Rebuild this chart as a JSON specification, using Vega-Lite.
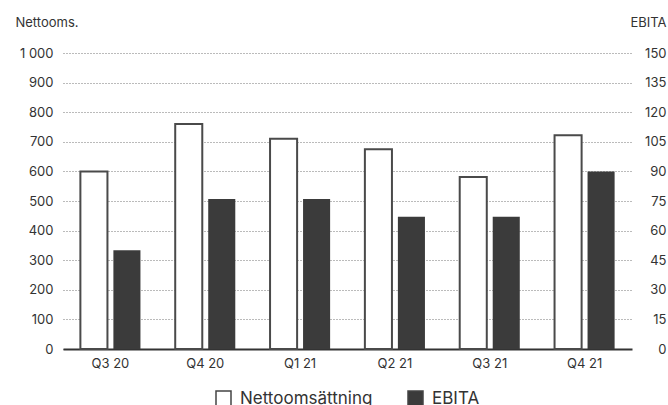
{
  "$schema": "https://vega.github.io/schema/vega-lite/v6.json",
  "width": 569,
  "height": 296,
  "autosize": {"type": "none"},
  "padding": {"left": 63, "top": 53, "right": 36, "bottom": 56},
  "config": {
    "locale": {"number": {"decimal": ",", "thousands": " ", "grouping": [3], "currency": ["", " kr"]}},
    "font": "Inter",
    "view": {"stroke": null},
    "axis": {
      "labelFont": "Inter", "labelFontSize": 13, "labelColor": "#333333",
      "ticks": false, "domain": false, "grid": false,
      "titleFont": "Inter", "titleFontSize": 13, "titleFontWeight": "normal", "titleColor": "#333333"
    },
    "legend": {
      "labelFont": "Inter", "labelFontSize": 17, "labelColor": "#333333",
      "symbolType": "square", "symbolSize": 225,
      "symbolStrokeColor": "#444444", "symbolStrokeWidth": 1.5,
      "columnPadding": 32, "labelOffset": 8
    }
  },
  "data": {
    "values": [
      {"quarter": "Q3 20", "serie": "Nettoomsättning", "value": 600},
      {"quarter": "Q4 20", "serie": "Nettoomsättning", "value": 760},
      {"quarter": "Q1 21", "serie": "Nettoomsättning", "value": 710},
      {"quarter": "Q2 21", "serie": "Nettoomsättning", "value": 675},
      {"quarter": "Q3 21", "serie": "Nettoomsättning", "value": 581},
      {"quarter": "Q4 21", "serie": "Nettoomsättning", "value": 722},
      {"quarter": "Q3 20", "serie": "EBITA", "value": 50},
      {"quarter": "Q4 20", "serie": "EBITA", "value": 76},
      {"quarter": "Q1 21", "serie": "EBITA", "value": 76},
      {"quarter": "Q2 21", "serie": "EBITA", "value": 67},
      {"quarter": "Q3 21", "serie": "EBITA", "value": 67},
      {"quarter": "Q4 21", "serie": "EBITA", "value": 90}
    ]
  },
  "encoding": {
    "x": {
      "field": "quarter", "type": "nominal",
      "sort": ["Q3 20", "Q4 20", "Q1 21", "Q2 21", "Q3 21", "Q4 21"],
      "scale": {"paddingInner": 0.304, "paddingOuter": 0.152},
      "axis": {"title": null, "labelAngle": 0, "domain": true, "domainColor": "#333333", "domainWidth": 2, "labelPadding": 8}
    },
    "xOffset": {
      "field": "serie", "type": "nominal",
      "scale": {"domain": ["Nettoomsättning", "EBITA"], "paddingInner": 0.18, "paddingOuter": 0.09}
    },
    "color": {
      "field": "serie", "type": "nominal",
      "scale": {"domain": ["Nettoomsättning", "EBITA"], "range": ["#ffffff", "#3b3b3b"]},
      "legend": {"title": null, "orient": "none", "direction": "horizontal", "legendX": 152, "legendY": 337}
    }
  },
  "layer": [
    {
      "transform": [{"filter": "datum.serie === 'Nettoomsättning'"}],
      "mark": {"type": "bar", "stroke": "#4a4a4a", "strokeWidth": 2},
      "encoding": {
        "y": {
          "field": "value", "type": "quantitative",
          "scale": {"domain": [0, 1000]},
          "axis": {
            "orient": "left",
            "values": [0, 100, 200, 300, 400, 500, 600, 700, 800, 900, 1000],
            "format": ",d", "grid": true, "gridDash": [1, 2], "gridColor": "#777777",
            "labelPadding": 10,
            "title": "Nettooms.", "titleAngle": 0, "titleAlign": "left", "titleBaseline": "middle",
            "titleX": -48, "titleY": -31
          }
        }
      }
    },
    {
      "transform": [{"filter": "datum.serie === 'EBITA'"}],
      "mark": {"type": "bar"},
      "encoding": {
        "y": {
          "field": "value", "type": "quantitative",
          "scale": {"domain": [0, 150]},
          "axis": {
            "orient": "right",
            "values": [0, 15, 30, 45, 60, 75, 90, 105, 120, 135, 150],
            "labelAlign": "right", "labelPadding": 34,
            "title": "EBITA", "titleAngle": 0, "titleAlign": "right", "titleBaseline": "middle",
            "titleX": 34, "titleY": -31
          }
        }
      }
    }
  ],
  "resolve": {"scale": {"y": "independent"}}
}
